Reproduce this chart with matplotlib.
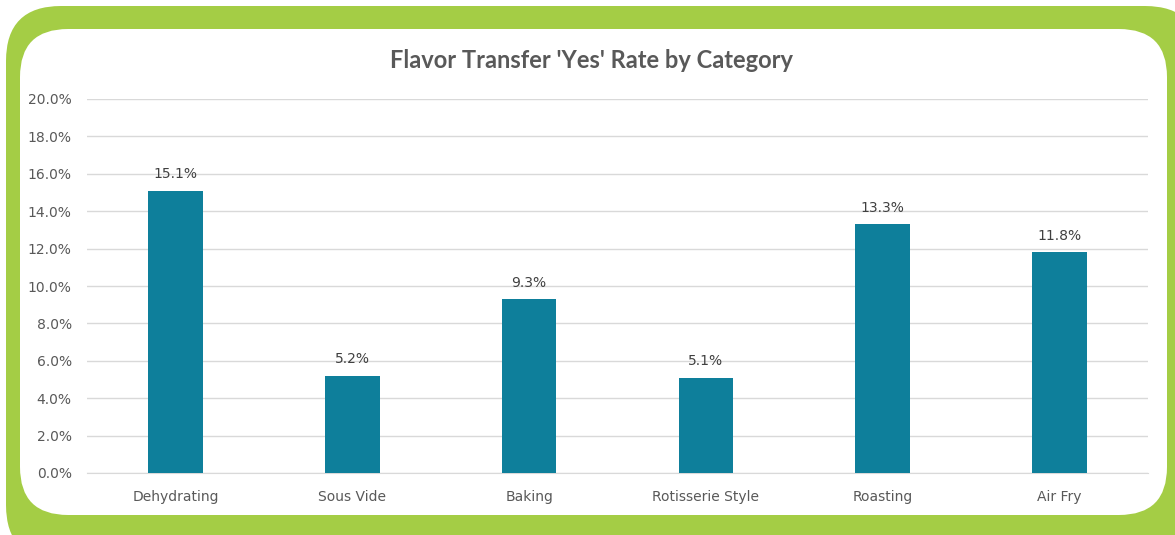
import matplotlib.pyplot as plt
from matplotlib.patches import FancyBboxPatch
from matplotlib.ticker import PercentFormatter

categories = ["Dehydrating", "Sous Vide", "Baking", "Rotisserie Style", "Roasting", "Air Fry"]
yes_rate = [15.1, 5.2, 9.3, 5.1, 13.3, 11.8]

W, H = 1175, 535
fig = plt.figure(figsize=(W / 100, H / 100), dpi=100)
fig.patch.set_facecolor("white")

# green rounded frame, drawn in inches so the corners stay round
def box(x0, y0, x1, y1, r, color):
    # pixel coords measured from top-left
    p = FancyBboxPatch((x0 / 100, (H - y1) / 100), (x1 - x0) / 100, (y1 - y0) / 100,
                       boxstyle="round,pad=0,rounding_size=%f" % (r / 100),
                       transform=fig.dpi_scale_trans, facecolor=color, edgecolor="none",
                       zorder=-2)
    fig.patches.append(p)

box(6, 6, 1200, 560, 55, "#a4cd45")
box(20, 29, 1167, 515, 48, "white")

ax = fig.add_axes([87 / W, 1 - 473 / H, (1148 - 87) / W, (473 - 99) / H])
ax.set_zorder(2)
ax.set_facecolor("none")

x = range(len(categories))
bars = ax.bar(x, yes_rate, width=0.31, color="#0e7f9b", zorder=3)
for b, v in zip(bars, yes_rate):
    ax.text(b.get_x() + b.get_width() / 2, v + 0.5, "%.1f%%" % v,
            ha="center", va="bottom", fontsize=10, color="#404040")

ax.set_ylim(0, 20)
ax.set_xlim(-0.5, len(categories) - 0.5)
ax.set_yticks([i * 2 for i in range(11)])
ax.yaxis.set_major_formatter(PercentFormatter(decimals=1))
ax.set_xticks(list(x))
ax.set_xticklabels(categories)
ax.tick_params(axis="both", length=0, labelsize=10, labelcolor="#595959")
ax.tick_params(axis="y", pad=11)
ax.tick_params(axis="x", pad=12)
ax.grid(axis="y", color="#d9d9d9", linewidth=1, zorder=0)
for s in ax.spines.values():
    s.set_visible(False)
ax.spines["bottom"].set_visible(True)
ax.spines["bottom"].set_color("#d9d9d9")
ax.spines["bottom"].set_zorder(1)

fig.text(592 / W, 1 - 60 / H, "Flavor Transfer 'Yes' Rate by Category",
         ha="center", va="center", fontsize=17, fontweight="bold", color="#595959",
         family=["Lato", "DejaVu Sans"], zorder=3)

fig.savefig("out.png", dpi=100)
